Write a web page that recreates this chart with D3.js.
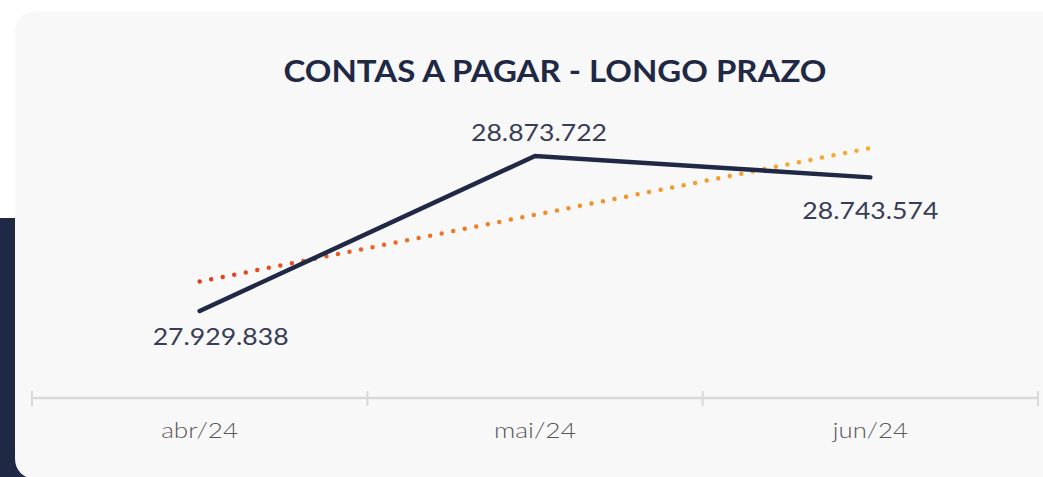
<!DOCTYPE html>
<html>
<head>
<meta charset="utf-8">
<script src="https://cdn.jsdelivr.net/npm/d3@7"></script>
<style>
  html, body { margin: 0; padding: 0; background: #ffffff; }
  svg { display: block; }
</style>
</head>
<body>
<div id="chart"></div>
<script>
const width = 1043
const height = 477

const months = ['abr/24', 'mai/24', 'jun/24']
const values = [27929838, 28873722, 28743574]
const valueLabels = ['27.929.838', '28.873.722', '28.743.574']
const title = 'CONTAS A PAGAR - LONGO PRAZO'

const navy = '#1f2844'

const svg = d3.select('#chart')
  .append('svg')
  .attr('width', width)
  .attr('height', height)

// dark strip on the left + card
svg.append('rect')
  .attr('x', 0).attr('y', 218)
  .attr('width', 30).attr('height', height - 218)
  .attr('fill', navy)

svg.append('rect')
  .attr('x', 15).attr('y', 11)
  .attr('width', 1100).attr('height', 468)
  .attr('rx', 20).attr('ry', 20)
  .attr('fill', '#f8f8f8')

svg.append('text')
  .attr('x', 555).attr('y', 82)
  .attr('text-anchor', 'middle')
  .attr('font-family', 'Lato, sans-serif')
  .attr('font-weight', 'bold')
  .attr('font-size', 31)
  .attr('textLength', 543)
  .attr('lengthAdjust', 'spacingAndGlyphs')
  .attr('fill', navy)
  .text(title)

// scales
const x = d3.scaleBand()
  .domain(months)
  .range([32, 1038])

const y = d3.scaleLinear()
  .domain([27929838, 28873722])
  .range([311, 156])

const xc = d => x(d) + x.bandwidth() / 2

// axis
const axis = svg.append('g')
  .attr('transform', 'translate(0,398)')
  .call(d3.axisBottom(x).tickSize(0).tickPadding(24))

axis.select('.domain')
  .attr('stroke', '#d9d9d9')
  .attr('stroke-width', 2.5)
  .attr('d', 'M32,0H1038')

const tickWidths = [77, 82, 75]
axis.selectAll('.tick text')
  .attr('font-family', 'Lato, sans-serif')
  .attr('font-weight', 300)
  .attr('font-size', 22)
  .attr('textLength', (d, i) => tickWidths[i])
  .attr('lengthAdjust', 'spacingAndGlyphs')
  .attr('fill', '#595959')

// boundary ticks
const bounds = months.map(m => x(m)).concat([x.range()[1]])
svg.append('g')
  .selectAll('line')
  .data(bounds)
  .join('line')
  .attr('x1', d => d).attr('x2', d => d)
  .attr('y1', 391).attr('y2', 406)
  .attr('stroke', '#d9d9d9')
  .attr('stroke-width', 2)

// linear trend (least squares on index)
const idx = values.map((v, i) => i)
const mx = d3.mean(idx)
const my = d3.mean(values)
const slope = d3.sum(idx, i => (i - mx) * (values[i] - my)) / d3.sum(idx, i => (i - mx) ** 2)
const icpt = my - slope * mx
const trend = idx.map(i => icpt + slope * i)

const defs = svg.append('defs')
const grad = defs.append('linearGradient')
  .attr('id', 'trendGrad')
  .attr('gradientUnits', 'userSpaceOnUse')
  .attr('x1', xc(months[0])).attr('x2', xc(months[2]))
  .attr('y1', 0).attr('y2', 0)
grad.append('stop').attr('offset', '0%').attr('stop-color', '#e63a1c')
grad.append('stop').attr('offset', '50%').attr('stop-color', '#f28a26')
grad.append('stop').attr('offset', '100%').attr('stop-color', '#f9ab30')

const line = d3.line()
  .x((d, i) => xc(months[i]))
  .y(d => y(d))

svg.append('path')
  .datum(trend)
  .attr('d', line)
  .attr('fill', 'none')
  .attr('stroke', 'url(#trendGrad)')
  .attr('stroke-width', 4.5)
  .attr('stroke-linecap', 'round')
  .attr('stroke-dasharray', '0 11.75')

svg.append('path')
  .datum(values)
  .attr('d', line)
  .attr('fill', 'none')
  .attr('stroke', navy)
  .attr('stroke-width', 4.5)
  .attr('stroke-linecap', 'round')
  .attr('stroke-linejoin', 'miter')

// data labels
const labelPos = [
  { dx: 21, dy: 34 },
  { dx: 4, dy: -15 },
  { dx: 0, dy: 42 }
]

svg.append('g')
  .selectAll('text')
  .data(values)
  .join('text')
  .attr('x', (d, i) => xc(months[i]) + labelPos[i].dx)
  .attr('y', (d, i) => y(d) + labelPos[i].dy)
  .attr('text-anchor', 'middle')
  .attr('font-family', 'Lato, sans-serif')
  .attr('font-size', 23)
  .attr('textLength', 136)
  .attr('lengthAdjust', 'spacingAndGlyphs')
  .attr('fill', '#383d56')
  .text((d, i) => valueLabels[i])
</script>
</body>
</html>
